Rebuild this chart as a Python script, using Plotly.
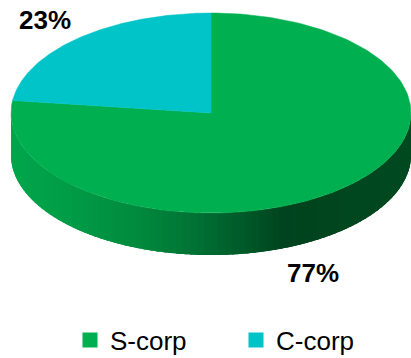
import numpy as np
import plotly.graph_objects as go

# Share of businesses by corporate form
categories = ["S-corp", "C-corp"]
shares = [77, 23]
colors = ["#00B050", "#00C4C8"]

# Canvas and pie geometry (pixel units on the hidden axes)
W, H = 411, 358
cx, cy = 211, 113        # centre of the top face
rx, ry = 200, 100        # radii of the tilted ellipse
depth = 42               # thickness of the disc

# Shading across the visible rim, from left to right
rim_x = [11, 60, 140, 200, 250, 285, 411]
rim_c = ["#00A64B", "#009E47", "#008A3D", "#006F33", "#005627", "#00431E", "#00491F"]


def hex_to_rgb(h):
    h = h.lstrip("#")
    return np.array([int(h[i:i + 2], 16) for i in (0, 2, 4)], dtype=float)


rim_rgb = np.array([hex_to_rgb(c) for c in rim_c])


def rim_color(x):
    r = [np.interp(x, rim_x, rim_rgb[:, k]) for k in range(3)]
    return "rgb(%d,%d,%d)" % tuple(int(round(v)) for v in r)


def ell(t):
    return cx + rx * np.cos(t), cy - ry * np.sin(t)


fig = go.Figure()

# Front rim of the disc, drawn as shaded strips; each strip overlaps the
# next one so no seams show between them
n_strips = 90
edges = np.linspace(np.pi, 2 * np.pi, n_strips + 1)
step = edges[1] - edges[0]
for a, b in zip(edges[:-1], edges[1:]):
    t = np.linspace(a, min(b + 1.5 * step, 2 * np.pi), 8)
    xt, yt = ell(t)
    xs = np.concatenate([xt, xt[::-1]])
    ys = np.concatenate([yt, (yt + depth)[::-1]])
    col = rim_color(float(np.mean(ell(np.array([a, b]))[0])))
    fig.add_trace(go.Scatter(x=xs, y=ys, fill="toself", fillcolor=col,
                             mode="none", hoverinfo="skip", showlegend=False))

# Top face slices: first slice runs clockwise from 12 o'clock
total = float(sum(shares))
start = np.pi / 2
for cat, val, col in zip(categories, shares, colors):
    sweep = 2 * np.pi * val / total
    t = np.linspace(start, start - sweep, 200)
    xt, yt = ell(t)
    xs = np.concatenate([[cx], xt, [cx]])
    ys = np.concatenate([[cy], yt, [cy]])
    fig.add_trace(go.Scatter(x=xs, y=ys, fill="toself", fillcolor=col,
                             mode="lines", line=dict(color=col, width=0.5),
                             hoverinfo="skip", showlegend=False))
    start -= sweep

# Legend entries
for cat, col in zip(categories, colors):
    fig.add_trace(go.Scatter(x=[None], y=[None], mode="markers", name=cat,
                             marker=dict(symbol="square", size=15, color=col)))

# Percentage labels
label_pos = {"S-corp": (313, 273), "C-corp": (45, 20)}
for cat, val in zip(categories, shares):
    lx, ly = label_pos[cat]
    fig.add_annotation(x=lx, y=ly, text="<b>%d%%</b>" % val, showarrow=False,
                       font=dict(family="Liberation Sans, Arial", size=26, color="#000000"),
                       xanchor="center", yanchor="middle")

fig.update_layout(
    width=W, height=H, autosize=False,
    margin=dict(l=0, r=0, t=0, b=0, autoexpand=False),
    paper_bgcolor="white", plot_bgcolor="white",
    xaxis=dict(range=[0, W], visible=False, fixedrange=True),
    yaxis=dict(range=[H, 0], visible=False, fixedrange=True),
    showlegend=True,
    legend=dict(orientation="h", x=70 / W, xanchor="left", y=(H - 340) / H,
                yanchor="middle", entrywidth=121, entrywidthmode="pixels",
                font=dict(family="Liberation Sans, Arial", size=26, color="#000000"),
                bgcolor="rgba(0,0,0,0)", borderwidth=0),
)

fig.write_html("out.html")
